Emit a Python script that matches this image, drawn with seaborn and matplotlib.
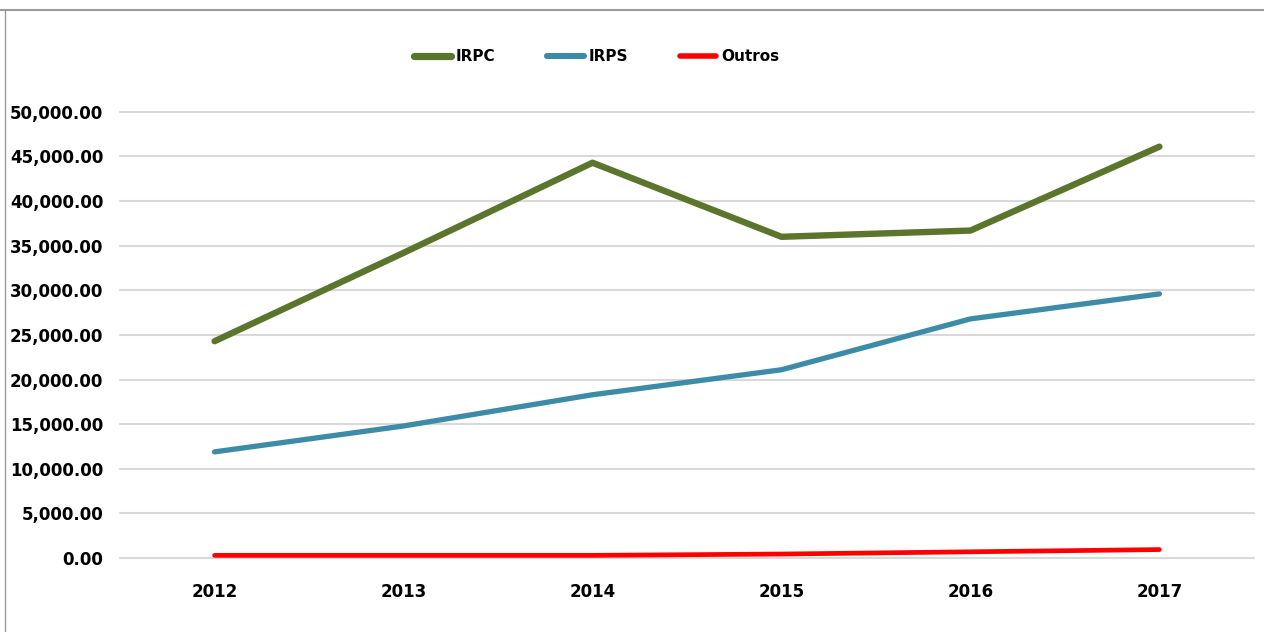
import matplotlib
matplotlib.use("Agg")
import matplotlib.pyplot as plt
from matplotlib.lines import Line2D
from matplotlib.ticker import FuncFormatter
import pandas as pd
import seaborn as sns

# values
years = ["2012", "2013", "2014", "2015", "2016", "2017"]
irpc = [24300, 34200, 44300, 36000, 36700, 46100]
irps = [11900, 14800, 18300, 21100, 26800, 29600]
outros = [300, 300, 300, 450, 700, 950]

series_names = ["IRPC", "IRPS", "Outros"]
colors = {"IRPC": "#5b752d", "IRPS": "#3c8ca8", "Outros": "#ff0000"}
widths = {"IRPC": 4.6, "IRPS": 3.8, "Outros": 3.4}

df = pd.DataFrame({"year": years, "IRPC": irpc, "IRPS": irps, "Outros": outros})
long_df = df.melt(id_vars="year", var_name="serie", value_name="valor")

sns.set_style("white")
plt.rcParams["font.family"] = ["DejaVu Sans"]
plt.rcParams["text.color"] = "black"
plt.rcParams["xtick.color"] = "black"
plt.rcParams["ytick.color"] = "black"

fig = plt.figure(figsize=(12.64, 6.32), dpi=100)
ax = fig.add_axes([0.095, 0.117, 0.897, 0.706])

for name in series_names:
    sns.lineplot(data=long_df[long_df["serie"] == name], x="year", y="valor",
                 color=colors[name], linewidth=widths[name], ax=ax,
                 solid_capstyle="round", legend=False, zorder=3)

ax.set_xlim(-0.5, 5.5)
ax.set_ylim(0, 50000)
ax.set_yticks(range(0, 50001, 5000))
ax.yaxis.set_major_formatter(FuncFormatter(lambda v, p: f"{v:,.2f}"))
ax.grid(axis="y", color="#d9d9d9", linewidth=1.5)
ax.grid(axis="x", visible=False)
for gl in ax.get_ygridlines():
    gl.set_clip_on(False)
for s in ax.spines.values():
    s.set_visible(False)
ax.set_xlabel("")
ax.set_ylabel("")
ax.tick_params(axis="both", length=0, labelsize=12)
ax.tick_params(axis="x", pad=18)
ax.tick_params(axis="y", pad=12)
for lab in ax.get_xticklabels() + ax.get_yticklabels():
    lab.set_fontweight("bold")

handles = [Line2D([0], [0], color=colors[n], linewidth=widths[n] + 0.6,
                  solid_capstyle="round") for n in series_names]
fig.legend(handles, series_names, loc="center", bbox_to_anchor=(0.472, 0.91),
           ncol=3, frameon=False, handlelength=2.4, handletextpad=0.3,
           columnspacing=3.4, prop={"weight": "bold", "size": 11})

# frame of the original chart box (top and left edges)
fig.add_artist(Line2D([0, 1], [0.984, 0.984], color="#9a9a9a", linewidth=1.5,
                      transform=fig.transFigure))
fig.add_artist(Line2D([0.004, 0.004], [0, 0.984], color="#9a9a9a", linewidth=1.0,
                      transform=fig.transFigure))

fig.savefig("out.png", dpi=100, facecolor="white")
